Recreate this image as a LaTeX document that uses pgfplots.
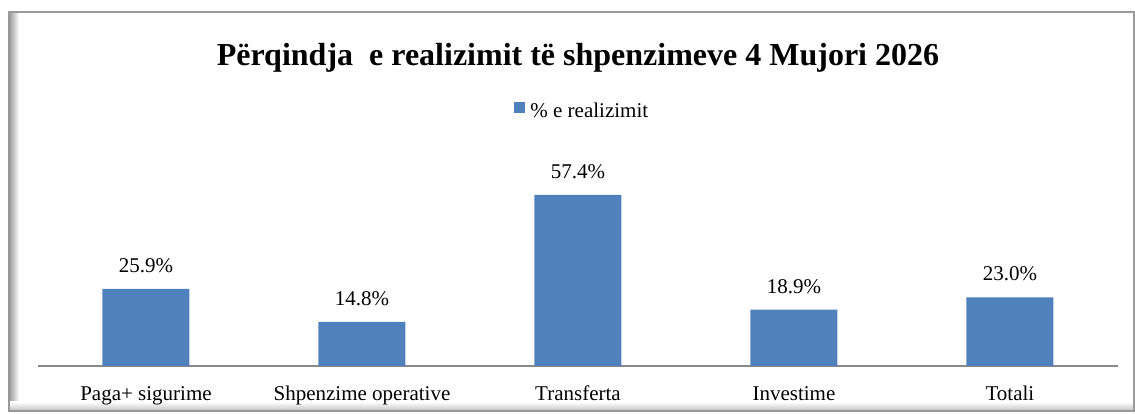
\documentclass[border=0pt]{standalone}
\usepackage{pgfplots}
\pgfplotsset{compat=1.18}
\usepackage{fontspec}
\setmainfont{Liberation Serif}
\definecolor{barblue}{HTML}{4F81BD}
\definecolor{axgray}{HTML}{898989}
\begin{document}
\begin{tikzpicture}[x=1pt,y=1pt]
\path (-38,-48) rectangle (1097,366);
\shade[left color=gray!80, right color=white] (-29,-45) rectangle (-19,354);
\shade[bottom color=gray!50, top color=white] (-29,-45) rectangle (1096,-36);
\draw[gray!80, line width=1.3pt] (-29,-45) rectangle (1096,354);
\begin{axis}[name=a, at={(0,0)}, anchor=south west, scale only axis,
 width=1080pt, height=208.6pt,
 ymin=0, ymax=70, xmin=-0.5, xmax=4.5,
 ybar, bar width=87pt,
 hide y axis, axis x line*=bottom,
 x axis line style={axgray, line width=1.5pt, -},
 xtick=data, xtick style={draw=none},
 xticklabels={Paga+ sigurime, Shpenzime operative, Transferta, Investime, Totali},
 x tick label style={font=\fontsize{21}{25}\selectfont, anchor=base, yshift=-30pt},
 nodes near coords={\pgfmathprintnumber[fixed,fixed zerofill,precision=1]{\pgfplotspointmeta}\%},
 every node near coord/.append style={font=\fontsize{21}{25}\selectfont, inner sep=0pt, yshift=16pt, text=black},
 /pgf/number format/assume math mode=true,
 clip=false,
 legend style={draw=none, fill=none, at={(0.504,1.222)}, anchor=center,
   font=\fontsize{21}{25}\selectfont},
 legend image code/.code={\fill[#1] (0pt,-2pt) rectangle (11pt,9pt);},
]
\addplot[fill=barblue, draw=none] coordinates {(0,25.9) (1,14.8) (2,57.4) (3,18.9) (4,23.0)};
\addlegendentry{\hspace{3pt}\% e realizimit}
\node[anchor=base, font=\fontsize{32}{38}\selectfont\bfseries, yshift=92pt] at (rel axis cs:0.5,1) {Përqindja\ \ e realizimit të shpenzimeve 4 Mujori 2026};
\end{axis}
\end{tikzpicture}
\end{document}
